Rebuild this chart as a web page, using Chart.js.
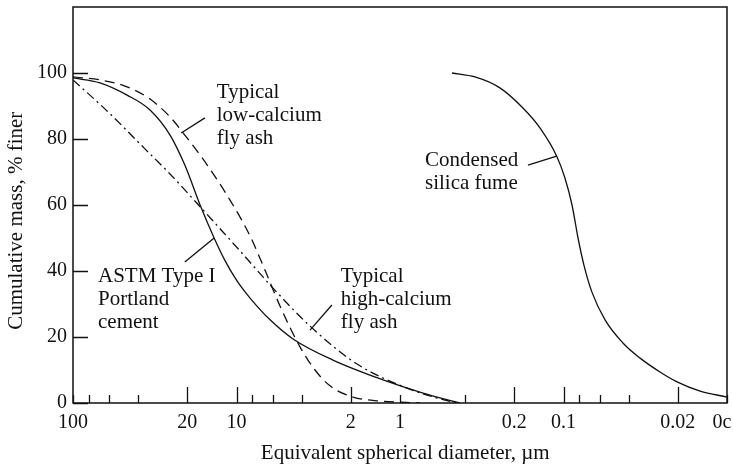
<!DOCTYPE html>
<html>
<head>
<meta charset="utf-8">
<script src="https://cdn.jsdelivr.net/npm/chart.js@4/dist/chart.umd.min.js"></script>
<style>
  body { margin: 0; background: #fff; }
  #wrap { width: 733px; height: 469px; }
</style>
</head>
<body>
<div id="wrap"><canvas id="chart" width="733" height="469"></canvas></div>
<script>
// particle size (um) and cumulative % finer
var portlandSize  = [100, 68.4, 46.7, 33.8, 25.5, 20.7, 16.7, 13.7, 11.8, 9.93, 8.26, 6.23, 4.51, 2.57, 1.27, 0.723, 0.43];
var portlandFiner = [98.5, 97.0, 93.3, 88.8, 81.2, 72.1, 60.0, 50.0, 43.3, 37.0, 31.8, 25.2, 19.4, 13.0, 7.0, 3.0, 0];

var lowCaSize  = [100, 68.4, 46.7, 33.8, 25.5, 20.7, 15.1, 10.96, 8.26, 6.70, 5.42, 4.09, 3.31, 2.68, 1.94, 1.32, 0.755];
var lowCaFiner = [98.8, 97.9, 95.8, 92.1, 86.7, 81.2, 72.1, 61.5, 50.6, 40.3, 29.4, 17.0, 10.0, 5.2, 1.8, 0.6, 0];

var highCaSize  = [100, 61.9, 36.3, 25.5, 17.5, 13.2, 9.52, 6.89, 5.98, 3.55, 1.83, 0.906, 0.594, 0.448];
var highCaFiner = [97.9, 88.5, 77.0, 69.4, 60.6, 53.9, 46.1, 38.2, 34.8, 23.3, 11.8, 4.5, 1.5, 0];

var silicaSize  = [0.481, 0.348, 0.245, 0.177, 0.139, 0.110, 0.098, 0.0887, 0.0815, 0.075, 0.067, 0.0557, 0.0433, 0.034, 0.0257, 0.0202, 0.0146, 0.01];
var silicaFiner = [100, 98.8, 95.5, 89.4, 83.3, 74.8, 68.2, 60.0, 50.0, 41.8, 33.6, 25.2, 18.2, 13.6, 9.4, 6.4, 3.6, 1.8];

// axis ticks
var xTickValues  = [100, 80, 60, 40, 20, 10, 8, 6, 4, 2, 1, 0.4, 0.2, 0.1, 0.08, 0.06, 0.04, 0.02, 0.01];
var xLongTicks   = [20, 10, 2, 0.2, 0.1, 0.02];
var xLabelValues = [100, 20, 10, 2, 1, 0.2, 0.1, 0.02, 0.01];
var xLabelTexts  = ['100', '20', '10', '2', '1', '0.2', '0.1', '0.02', '0c'];
var yTickValues  = [0, 20, 40, 60, 80, 100];

// curve labels: text, position of first line, leader line (all in data units)
var noteLines = [
    ['Typical', 'low-calcium', 'fly ash'],
    ['Condensed', 'silica fume'],
    ['ASTM Type I', 'Portland', 'cement'],
    ['Typical', 'high-calcium', 'fly ash']
];
var noteAt   = [[13.2, 94.2], [0.703, 73.6], [70.3, 38.2], [2.30, 38.2]];
var noteFrom = [[15.6, 86.4], [0.165, 72.1], [20.7, 42.7], [2.61, 29.7]];
var noteTo   = [[21.8, 81.8], [0.110, 74.8], [13.7, 50.0], [3.55, 22.1]];

var FONT = "'Liberation Serif', 'DejaVu Serif', serif";
var INK = '#111';

function toPoints(xs, ys) {
    return xs.map(function (x, i) { return {x: x, y: ys[i]}; });
}

function series(label, xs, ys, dash) {
    return {
        label: label,
        data: toPoints(xs, ys),
        borderColor: INK,
        borderWidth: 1.3,
        borderDash: dash,
        pointRadius: 0,
        fill: false,
        cubicInterpolationMode: 'monotone'
    };
}

var decor = {
    id: 'decor',
    afterDraw: function (chart) {
        var ctx = chart.ctx, a = chart.chartArea;
        var xs = chart.scales.x, ys = chart.scales.y;
        ctx.save();
        ctx.strokeStyle = INK;
        ctx.lineWidth = 1.5;
        ctx.strokeRect(a.left, a.top, a.right - a.left, a.bottom - a.top);

        // inward tick marks
        ctx.lineWidth = 1.3;
        ctx.beginPath();
        xTickValues.forEach(function (v) {
            var px = Math.round(xs.getPixelForValue(v)) + 0.5;
            var len = xLongTicks.indexOf(v) >= 0 ? 16 : 8;
            ctx.moveTo(px, a.bottom);
            ctx.lineTo(px, a.bottom - len);
        });
        yTickValues.forEach(function (v) {
            var py = Math.round(ys.getPixelForValue(v)) + 0.5;
            ctx.moveTo(a.left, py);
            ctx.lineTo(a.left + 15, py);
        });
        ctx.stroke();

        // curve labels with leader lines
        ctx.fillStyle = INK;
        ctx.font = '21px ' + FONT;
        ctx.textAlign = 'left';
        ctx.textBaseline = 'middle';
        noteLines.forEach(function (lines, i) {
            var tx = xs.getPixelForValue(noteAt[i][0]);
            var ty = ys.getPixelForValue(noteAt[i][1]);
            lines.forEach(function (t, k) {
                ctx.fillText(t, tx, ty + k * 23);
            });
            ctx.beginPath();
            ctx.moveTo(xs.getPixelForValue(noteFrom[i][0]), ys.getPixelForValue(noteFrom[i][1]));
            ctx.lineTo(xs.getPixelForValue(noteTo[i][0]), ys.getPixelForValue(noteTo[i][1]));
            ctx.stroke();
        });
        ctx.restore();
    }
};

new Chart(document.getElementById('chart').getContext('2d'), {
    type: 'line',
    data: {
        datasets: [
            series('ASTM Type I Portland cement', portlandSize, portlandFiner, []),
            series('Typical low-calcium fly ash', lowCaSize, lowCaFiner, [10, 6]),
            series('Typical high-calcium fly ash', highCaSize, highCaFiner, [9, 4, 2, 4]),
            series('Condensed silica fume', silicaSize, silicaFiner, [])
        ]
    },
    options: {
        responsive: false,
        animation: false,
        layout: {padding: {top: 7, right: 6, left: 0, bottom: 0}},
        plugins: {legend: {display: false}, tooltip: {enabled: false}},
        scales: {
            x: {
                type: 'logarithmic',
                reverse: true,
                min: 0.01,
                max: 100,
                grid: {display: false, drawTicks: false},
                border: {display: false},
                afterBuildTicks: function (scale) {
                    scale.ticks = xTickValues.map(function (v) { return {value: v}; });
                },
                afterFit: function (scale) {
                    scale.height = 66;
                    scale.paddingLeft = 0;
                    scale.paddingRight = 0;
                },
                ticks: {
                    autoSkip: false,
                    maxRotation: 0,
                    padding: 8,
                    color: INK,
                    font: {family: FONT, size: 20},
                    callback: function (value) {
                        var i = xLabelValues.indexOf(value);
                        if (i < 0) return '';
                        // last label sits against the right edge, nudge it inward
                        return i === xLabelValues.length - 1 ? xLabelTexts[i] + '\u2002' : xLabelTexts[i];
                    }
                },
                title: {
                    display: true,
                    text: '\u2002Equivalent spherical diameter, µm',
                    color: INK,
                    font: {family: FONT, size: 21},
                    padding: {top: 0, bottom: 3}
                }
            },
            y: {
                min: 0,
                max: 120,
                grid: {display: false, drawTicks: false},
                border: {display: false},
                afterBuildTicks: function (scale) {
                    scale.ticks = yTickValues.map(function (v) { return {value: v}; });
                },
                afterFit: function (scale) {
                    scale.width = 73;
                    scale.paddingTop = 0;
                    scale.paddingBottom = 0;
                },
                ticks: {
                    padding: 6,
                    color: INK,
                    font: {family: FONT, size: 20}
                },
                title: {
                    display: true,
                    text: 'Cumulative mass, % finer\u2002\u2002\u2002',
                    color: INK,
                    font: {family: FONT, size: 21},
                    padding: {top: 4, bottom: 0}
                }
            }
        }
    },
    plugins: [decor]
});
</script>
</body>
</html>
